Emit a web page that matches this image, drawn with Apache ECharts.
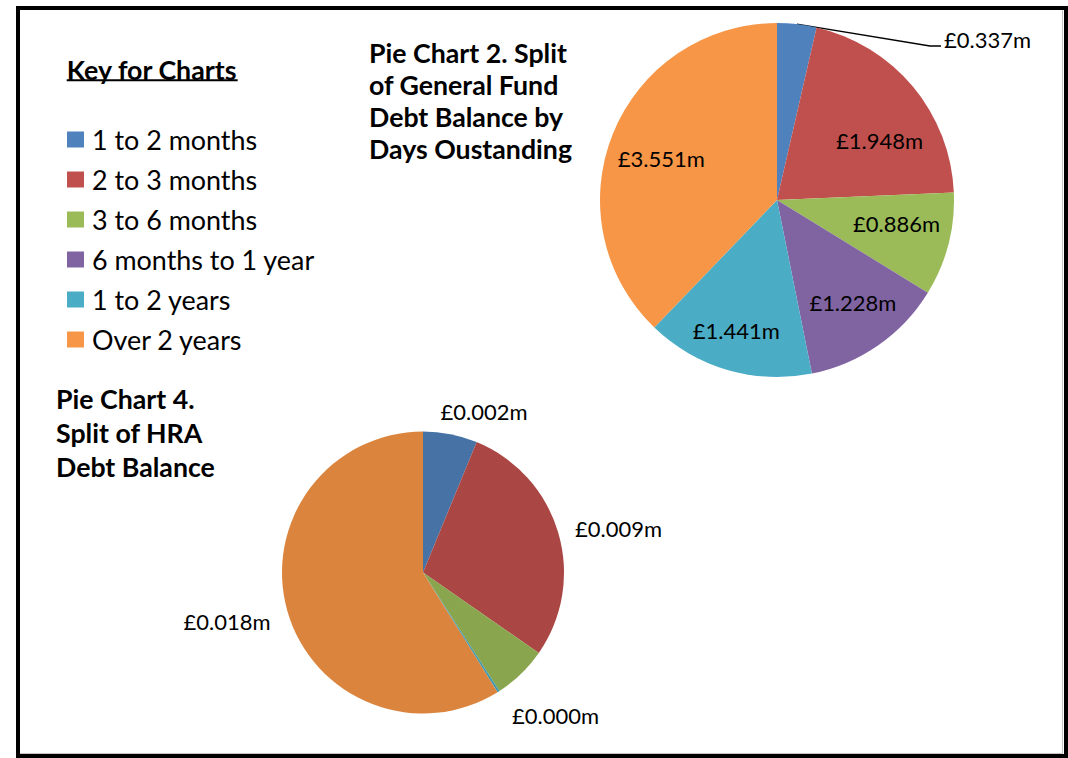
<!DOCTYPE html>
<html>
<head>
<meta charset="utf-8">
<script src="https://cdn.jsdelivr.net/npm/echarts@6/dist/echarts.min.js"></script>
<style>
  html, body { margin: 0; padding: 0; background: #fff; }
  #chart { width: 1068px; height: 758px; }
</style>
</head>
<body>
<div id="chart"></div>
<script>
// Debt age bands shared by both pies
const categories = ['1 to 2 months', '2 to 3 months', '3 to 6 months', '6 months to 1 year', '1 to 2 years', 'Over 2 years'];
// General Fund debt balance, £m
const generalFundValues = [0.337, 1.948, 0.886, 1.228, 1.441, 3.551];
// HRA debt balance, £m
const hraValues = [0.0019, 0.0087, 0.0019, 0, 0.00008, 0.0180];

const keyTitle = 'Key for Charts';
const gfTitleLines = ['Pie Chart 2. Split', 'of General Fund', 'Debt Balance by', 'Days Oustanding'];
const hraTitleLines = ['Pie Chart 4.', 'Split of HRA', 'Debt Balance'];

// ---- styling ----
const FONT = 'Lato, "Open Sans", sans-serif';
const gfColors = ['#4F81BD', '#C0504D', '#9BBB59', '#8064A2', '#4BACC6', '#F79646'];
const hraColors = ['#4672A6', '#AA4643', '#89A54E', '#71588F', '#4198AF', '#DB843D'];
const hraHiddenLabels = [2, 3];

// pie geometry (px)
const GF = { cx: 777, cy: 200, r: 177 };
const HRA = { cx: 423, cy: 572.5, r: 141 };

// label placement tweaks, relative to the default anchor of each slice
const gfNudge = [[0, 0], [10, 17], [3, -7], [7, 4], [-7, 15], [-4, 3]];
const hraNudge = [[33.7, -22.7], [60.3, -4.1], [0, 0], [0, 0], [57, 23.5], [-60.4, 9.8]];

// size fonts so strings occupy a given width
const measureCtx = document.createElement('canvas').getContext('2d');
function textWidth(text, weight, size) {
  measureCtx.font = weight + ' ' + size + 'px ' + FONT;
  return measureCtx.measureText(text).width;
}
function fitSize(text, weight, target) {
  return 100 * target / textWidth(text, weight, 100);
}
const labelSize = fitSize('£0.337m', 'normal', 87);
const keySize = fitSize('6 months to 1 year', 'normal', 223);
const headSize = fitSize('Pie Chart 2. Split', 'bold', 198);
const keyHeadSize = fitSize(keyTitle, 'bold', 171);

function midAngles(values) {
  const total = values.reduce((a, b) => a + b, 0);
  let acc = 0;
  return values.map(v => {
    const a = (acc + v / 2) / total * 2 * Math.PI;
    acc += v;
    return a;
  });
}
const gfMid = midAngles(generalFundValues);
const hraMid = midAngles(hraValues);

function polar(g, a, d) {
  return [g.cx + d * Math.sin(a), g.cy - d * Math.cos(a)];
}

const money = p => '£' + p.value.toFixed(3) + 'm';

// ---- text and frame drawn as graphics ----
const graphics = [];
function titleLine(text, x, y, size) {
  graphics.push({
    type: 'text', x: x, y: y,
    style: { text: text, fill: '#000', fontFamily: FONT, fontWeight: 'bold', fontSize: size, align: 'left', verticalAlign: 'middle' }
  });
}
titleLine(keyTitle, 66.7, 69.5, keyHeadSize);
graphics.push({
  type: 'line',
  shape: { x1: 66.7, y1: 80.3, x2: 66.7 + textWidth(keyTitle, 'bold', keyHeadSize), y2: 80.3 },
  style: { stroke: '#000', lineWidth: 2 }
});
gfTitleLines.forEach((t, i) => titleLine(t, 369, 52.8 + i * 32.2, headSize));
hraTitleLines.forEach((t, i) => titleLine(t, 56, 398.5 + i * 34.2, headSize));
graphics.push({
  type: 'polyline',
  shape: { points: [[1062.5, 10], [1062.5, 753.5], [20, 753.5]] },
  style: { stroke: '#c4c4c4', lineWidth: 1, fill: null }
});
graphics.push({
  type: 'rect', z: 100,
  shape: { x: 18, y: 8, width: 1048, height: 748 },
  style: { fill: null, stroke: '#000', lineWidth: 4 }
});

const chart = echarts.init(document.getElementById('chart'), null, { renderer: 'svg' });
chart.setOption({
  animation: false,
  backgroundColor: '#fff',
  textStyle: { fontFamily: FONT },
  legend: {
    orient: 'vertical',
    left: 67,
    top: 126,
    padding: 0,
    data: categories,
    icon: 'rect',
    itemWidth: 17,
    itemHeight: 16,
    itemGap: 13,
    selectedMode: false,
    textStyle: { fontFamily: FONT, fontSize: keySize, color: '#000', lineHeight: 24, padding: [0, 0, 0, 3] }
  },
  graphic: graphics,
  series: [
    {
      name: 'General Fund',
      type: 'pie',
      center: [GF.cx, GF.cy],
      radius: GF.r,
      startAngle: 90,
      clockwise: true,
      avoidLabelOverlap: false,
      silent: true,
      itemStyle: { borderWidth: 0 },
      label: {
        show: true, position: 'inside', formatter: money,
        color: '#000', fontFamily: FONT, fontSize: labelSize, textBorderWidth: 0
      },
      labelLine: { show: false },
      data: categories.map((name, i) => {
        const d = { name: name, value: generalFundValues[i], itemStyle: { color: gfColors[i] } };
        if (i === 0) {
          d.label = { position: 'outside' };
          d.labelLine = { show: true, length: 10, length2: 10, lineStyle: { color: '#000', width: 1.5 } };
        }
        return d;
      }),
      labelLayout: function (p) {
        const i = p.dataIndex;
        const a = gfMid[i];
        if (i === 0) {
          const s = polar(GF, a, GF.r);
          const lx = 944, ly = 39.5;
          return {
            x: lx, y: ly, align: 'left', verticalAlign: 'middle',
            labelLinePoints: [s, [lx - 14, ly + 6.5], [lx - 3, ly + 6.5]]
          };
        }
        const c = polar(GF, a, 0.68 * GF.r);
        return { x: c[0] + gfNudge[i][0], y: c[1] + gfNudge[i][1], align: 'center', verticalAlign: 'middle' };
      }
    },
    {
      name: 'HRA',
      type: 'pie',
      center: [HRA.cx, HRA.cy],
      radius: HRA.r,
      startAngle: 90,
      clockwise: true,
      avoidLabelOverlap: false,
      silent: true,
      itemStyle: { borderWidth: 0 },
      label: {
        show: true, position: 'outside', formatter: money,
        color: '#000', fontFamily: FONT, fontSize: labelSize, textBorderWidth: 0
      },
      labelLine: { show: false },
      data: categories.map((name, i) => {
        const d = { name: name, value: hraValues[i], itemStyle: { color: hraColors[i] } };
        if (hraHiddenLabels.indexOf(i) >= 0) d.label = { show: false };
        return d;
      }),
      labelLayout: function (p) {
        const i = p.dataIndex;
        const e = polar(HRA, hraMid[i], HRA.r);
        return { x: e[0] + hraNudge[i][0], y: e[1] + hraNudge[i][1], align: 'center', verticalAlign: 'middle' };
      }
    }
  ]
});
</script>
</body>
</html>
